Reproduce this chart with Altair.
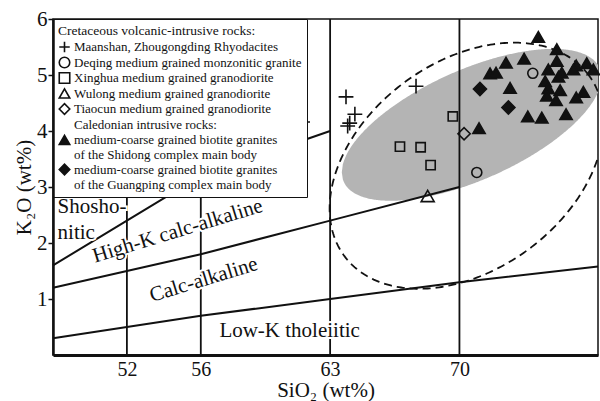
import altair as alt
import numpy as np
import pandas as pd

FONT = "Liberation Serif"
INK = "#111111"

# ---------------- data ----------------
cross_x = [61.51, 63.86, 64.34, 64.06, 63.95, 67.65]
cross_y = [4.16, 4.61, 4.30, 4.14, 4.09, 4.80]

circle_x = [70.94, 73.97]
circle_y = [3.26, 5.03]

square_x = [69.64, 66.78, 67.90, 68.44]
square_y = [4.26, 3.72, 3.71, 3.39]

otri_x = [68.28]
otri_y = [2.84]

odia_x = [70.25]
odia_y = [3.95]

ftri_x = [74.27, 75.27, 73.50, 72.52, 75.27, 76.32, 76.89, 74.81, 76.17, 77.25,
          71.66, 71.98, 75.54, 75.36, 74.64, 72.74, 74.81, 75.45, 76.71, 76.32,
          74.73, 75.23, 75.77, 73.70, 74.46, 71.06]
ftri_y = [5.68, 5.46, 5.29, 5.22, 5.25, 5.17, 5.21, 5.10, 5.10, 5.10,
          5.03, 5.04, 5.04, 4.97, 4.89, 4.77, 4.76, 4.73, 4.70, 4.60,
          4.63, 4.55, 4.30, 4.26, 4.24, 4.05]

fdia_x = [71.11, 72.65]
fdia_y = [4.75, 4.42]

# Peccerillo & Taylor boundaries
lowk_x = [48, 52, 56, 63, 70, 77.5]
lowk_y = [0.3, 0.5, 0.7, 1.0, 1.3, 1.58]
calc_x = [48, 52, 56, 63, 70]
calc_y = [1.2, 1.5, 1.8, 2.4, 3.0]
shosh_x = [48, 52, 56, 63]
shosh_y = [1.6, 2.4, 3.2, 4.0]
vert_x = [52, 56, 63, 70]

x_ticks = [52, 56, 63, 70]
y_ticks = [1, 2, 3, 4, 5, 6]

groups = [
    "Maanshan, Zhougongding Rhyodacites",
    "Deqing medium grained monzonitic granite",
    "Xinghua medium grained granodiorite",
    "Wulong medium grained granodiorite",
    "Tiaocun medium grained granodiorite",
    "Caledonian intrusive rocks:",
    "medium-coarse grained biotite granites|of the Shidong complex main body",
    "medium-coarse grained biotite granites|of the Guangping complex main body",
]
shapes = ["M-1,0H1M0,-1V1", "circle", "square", "triangle-up", "diamond",
          "circle", "triangle-up", "diamond"]
fills = ["transparent"] * 6 + [INK, INK]
strokes = [INK] * 5 + ["transparent"] + [INK, INK]
sizes = [220, 100, 85, 170, 150, 10, 150, 170]

# ellipse parameters (centre in data units, semi-axes in px, angle deg)
gray_ell = dict(cx=70.66, cy=4.11, a=140, b=55, theta=24)
dash_ell = dict(cx=70.39, cy=3.38, a=152, b=104, theta=36.4)

X_DOM = [48, 77.5]
Y_DOM = [0, 6]
W, H = 545, 336
PX_X = W / (X_DOM[1] - X_DOM[0])
PX_Y = H / (Y_DOM[1] - Y_DOM[0])

# ---------------- tables ----------------
series = [
    (groups[0], cross_x, cross_y),
    (groups[1], circle_x, circle_y),
    (groups[2], square_x, square_y),
    (groups[3], otri_x, otri_y),
    (groups[4], odia_x, odia_y),
    (groups[6], ftri_x, ftri_y),
    (groups[7], fdia_x, fdia_y),
]
rows = []
for g, xs_, ys_ in series:
    for xv, yv in zip(xs_, ys_):
        rows.append({"group": g, "x": xv, "y": yv})
pts_df = pd.DataFrame(rows)

lines_df = pd.concat([
    pd.DataFrame({"x": lowk_x, "y": lowk_y, "line": "lowk"}),
    pd.DataFrame({"x": calc_x, "y": calc_y, "line": "calc"}),
    pd.DataFrame({"x": shosh_x, "y": shosh_y, "line": "shosh"}),
])
vert_df = pd.DataFrame({"x": vert_x})


def ellipse_band(cx, cy, a, b, theta, n=240):
    th = np.radians(theta)
    c, s = np.cos(th), np.sin(th)
    A = s * s / a ** 2 + c * c / b ** 2
    half_w = np.sqrt(a * a * c * c + b * b * s * s)
    dx = np.linspace(-half_w, half_w, n)
    B = 2 * dx * (c * s / a ** 2 - s * c / b ** 2)
    C = dx * dx * (c * c / a ** 2 + s * s / b ** 2) - 1
    disc = np.clip(B * B - 4 * A * C, 0, None)
    y1 = (-B + np.sqrt(disc)) / (2 * A)
    y2 = (-B - np.sqrt(disc)) / (2 * A)
    return pd.DataFrame({"x": cx + dx / PX_X, "y": cy + y1 / PX_Y, "y2": cy + y2 / PX_Y})


def ellipse_loop(cx, cy, a, b, theta, n=360):
    th = np.radians(theta)
    t = np.linspace(0, 2 * np.pi, n)
    ux = a * np.cos(t)
    vy = b * np.sin(t)
    dx = ux * np.cos(th) - vy * np.sin(th)
    dy = ux * np.sin(th) + vy * np.cos(th)
    return pd.DataFrame({"x": cx + dx / PX_X, "y": cy + dy / PX_Y, "t": np.arange(n)})


gray_df = ellipse_band(**gray_ell)
dash_df = ellipse_loop(**dash_ell)

# ---------------- chart ----------------
xs = alt.Scale(domain=X_DOM, nice=False, zero=False)
ys = alt.Scale(domain=Y_DOM, nice=False, zero=False)

x_axis = alt.Axis(values=x_ticks, title="SiO₂ (wt%)", ticks=False, grid=False,
                  domainWidth=3, domainColor=INK, labelFont=FONT, labelFontSize=20,
                  labelColor=INK, labelPadding=4, titleFont=FONT, titleFontSize=21,
                  titleFontWeight="normal", titleColor=INK, titlePadding=0, zindex=1)
y_axis = alt.Axis(values=y_ticks, title="K₂O (wt%)", grid=False, tickSize=5,
                  tickWidth=1.5, tickColor=INK, domainWidth=2.5, domainColor=INK,
                  labelFont=FONT, labelFontSize=21, labelColor=INK, labelPadding=1,
                  titleFont=FONT, titleFontSize=21, titleFontWeight="normal",
                  titleColor=INK, titlePadding=2, zindex=1)

X = alt.X("x:Q", scale=xs, axis=x_axis)
Y = alt.Y("y:Q", scale=ys, axis=y_axis)

gray = alt.Chart(gray_df).mark_area(color="#b4b4b4", opacity=1, clip=True).encode(
    x=X, y=Y, y2="y2:Q")

dashed = alt.Chart(dash_df).mark_line(color=INK, strokeWidth=1.8, strokeDash=[8, 5],
                                      clip=True).encode(x=X, y=Y, order="t:Q")

bounds = alt.Chart(lines_df).mark_line(color=INK, strokeWidth=2).encode(
    x=X, y=Y, detail="line:N")

verts = alt.Chart(vert_df).mark_rule(color=INK, strokeWidth=1.8).encode(x=X)


def label(text, xv, yv, angle=0, align="center", baseline="middle"):
    df = pd.DataFrame({"x": [xv], "y": [yv], "t": [text]})
    props = dict(font=FONT, fontSize=21, align=align, baseline=baseline)
    if angle:
        props["angle"] = angle
    halo = alt.Chart(df).mark_text(color="white", stroke="white", strokeWidth=4, **props).encode(
        x=X, y=Y, text="t:N")
    txt = alt.Chart(df).mark_text(color=INK, **props).encode(x=X, y=Y, text="t:N")
    return [halo, txt]


labels = []
labels += label("Shosho-", 48.25, 2.54, align="left", baseline="alphabetic")
labels += label("nitic", 48.25, 2.08, align="left", baseline="alphabetic")
labels += label("High-K calc-alkaline", 54.75, 2.21, angle=343)
labels += label("Calc-alkaline", 56.16, 1.34, angle=343)
labels += label("Low-K tholeiitic", 60.81, 0.43)

leg = alt.Legend(
    title="Cretaceous volcanic-intrusive rocks:",
    orient="none", legendX=0, legendY=0,
    labelExpr="indexof(datum.label, '|') >= 0 ? split(datum.label, '|') : datum.label",
    labelFont=FONT, labelFontSize=13, labelColor=INK, labelLimit=400, labelOffset=3,
    titleFont=FONT, titleFontSize=13.5, titleFontWeight="normal", titleColor=INK,
    titlePadding=3, titleLimit=400,
    symbolSize=110, symbolStrokeWidth=1.6,
    strokeColor=INK, fillColor="white", padding=5, rowPadding=-1.5,
)

SH = alt.Shape("group:N", scale=alt.Scale(domain=groups, range=shapes), legend=leg)
FI = alt.Fill("group:N", scale=alt.Scale(domain=groups, range=fills), legend=leg)
ST = alt.Stroke("group:N", scale=alt.Scale(domain=groups, range=strokes), legend=leg)

point_layers = []
for g, _, _ in series:
    s = sizes[groups.index(g)]
    point_layers.append(
        alt.Chart(pts_df).transform_filter(alt.datum.group == g)
        .mark_point(filled=True, opacity=1, strokeWidth=1.6, size=s)
        .encode(x=X, y=Y, shape=SH, fill=FI, stroke=ST)
    )

chart = alt.layer(gray, dashed, bounds, verts, *labels, *point_layers).properties(
    width=W, height=H,
    autosize=alt.AutoSizeParams(type="none"),
    padding={"left": 53, "top": 19, "right": 2, "bottom": 46},
    background="white",
).configure_view(stroke=INK, strokeWidth=1.5)

chart.save("out.html", embed_options={"renderer": "svg", "actions": False})
